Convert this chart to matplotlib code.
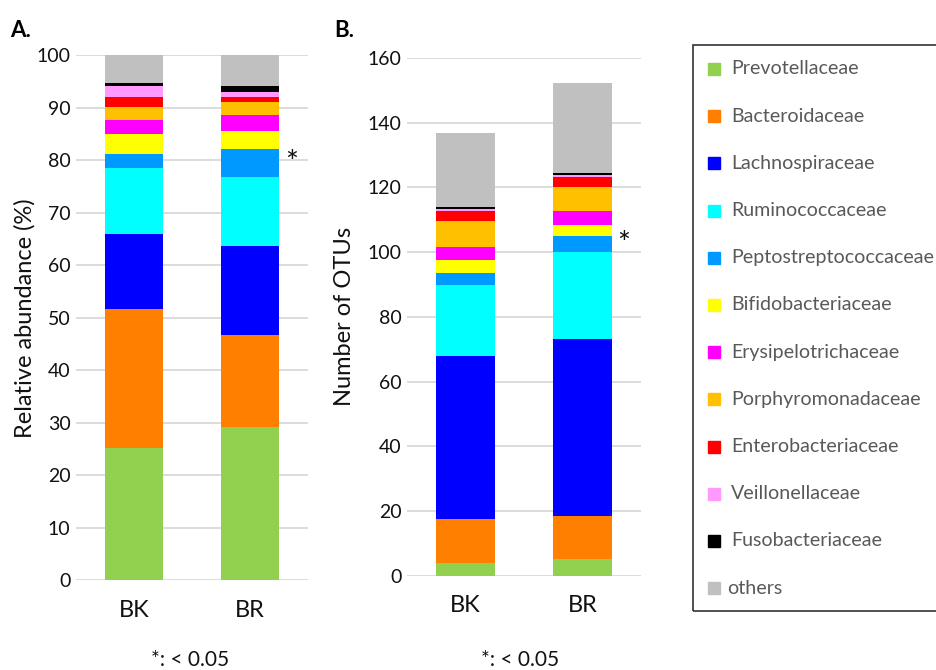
import matplotlib
matplotlib.use("Agg")
import matplotlib.pyplot as plt
from matplotlib.patches import Rectangle

plt.rcParams['font.family'] = ['Lato', 'DejaVu Sans']

groups = ["BK", "BR"]
families = ["Prevotellaceae", "Bacteroidaceae", "Lachnospiraceae", "Ruminococcaceae",
            "Peptostreptococcaceae", "Bifidobacteriaceae", "Erysipelotrichaceae",
            "Porphyromonadaceae", "Enterobacteriaceae", "Veillonellaceae",
            "Fusobacteriaceae", "others"]
colors = ["#92D050", "#FF7F00", "#0000FF", "#00FFFF", "#0099FF", "#FFFF00",
          "#FF00FF", "#FFC000", "#FF0000", "#FF99FF", "#000000", "#C0C0C0"]

# relative abundance (%) per family, [BK, BR]
abundance = [
    [25.2, 29.2], [26.4, 17.6], [14.4, 16.8], [12.5, 13.2],
    [2.7, 5.4], [3.8, 3.4], [2.7, 3.0], [2.4, 2.5],
    [2.0, 1.0], [2.1, 0.8], [0.5, 1.3], [5.3, 5.8],
]
# number of OTUs per family, [BK, BR]
otus = [
    [3.9, 5.2], [13.5, 13.2], [50.4, 54.8], [22.0, 26.9],
    [3.9, 5.0], [3.9, 3.4], [4.1, 4.3], [7.8, 7.4],
    [3.3, 3.1], [0.4, 0.4], [0.8, 0.8], [22.9, 27.8],
]
signif = "Peptostreptococcaceae"

fig = plt.figure(figsize=(9.36, 6.7), dpi=100)
axA = fig.add_axes([0.0812, 0.134, 0.2479, 0.7836])
axB = fig.add_axes([0.4348, 0.1407, 0.25, 0.7727])

text_col = "#111111"


def stacked(ax, data, ymax, ystep, ylabel, label_x):
    x = list(range(len(groups)))
    bottom = [0.0] * len(groups)
    for fam, vals, c in zip(families, data, colors):
        ax.bar(x, vals, width=0.5, bottom=bottom, color=c, edgecolor="none", zorder=3)
        if fam == signif:
            mid = bottom[1] + vals[1] / 2
            ax.text(1.3, mid, "*", fontsize=22, va="center", ha="left", color=text_col)
        bottom = [b + v for b, v in zip(bottom, vals)]
    ax.set_xlim(-0.5, 1.5)
    ax.set_ylim(0, ymax)
    ax.set_yticks(range(0, ymax + 1, ystep))
    ax.set_xticks(x)
    ax.set_xticklabels(groups, fontsize=17, color=text_col)
    ax.tick_params(axis="y", labelsize=14, colors=text_col, length=0, pad=4)
    ax.tick_params(axis="x", length=0, pad=14)
    ax.grid(axis="y", color="#d9d9d9", linewidth=1.3, zorder=0)
    for s in ax.spines.values():
        s.set_visible(False)
    ax.set_ylabel(ylabel, fontsize=17, color=text_col, va="center")
    ax.yaxis.set_label_coords(label_x, 0.5)


stacked(axA, abundance, 100, 10, "Relative abundance (%)", -0.22)
stacked(axB, otus, 160, 20, "Number of OTUs", -0.265)

fig.text(0.011, 0.955, "A.", fontsize=16, fontweight="bold", va="center")
fig.text(0.357, 0.955, "B.", fontsize=16, fontweight="bold", va="center")
fig.text(0.203, 0.015, "*: < 0.05", fontsize=15, ha="center", va="center", color=text_col)
fig.text(0.556, 0.015, "*: < 0.05", fontsize=15, ha="center", va="center", color=text_col)

# legend box, running off the right edge
fig.patches.append(Rectangle((693 / 936, 1 - 611 / 670), 0.4, (611 - 45) / 670,
                             transform=fig.transFigure, fill=False,
                             edgecolor="#333333", linewidth=1.2))
for i, (fam, c) in enumerate(zip(families, colors)):
    y = 1 - (69 + i * 47.2) / 670
    fig.patches.append(Rectangle((708 / 936, y - 6 / 670), 12 / 936, 12 / 670,
                                 transform=fig.transFigure, color=c))
    tx = 727 if fam == "others" else 731
    fig.text(tx / 936, y, fam, fontsize=14.1, color="#595959", va="center")

fig.savefig("out.png", dpi=100)
